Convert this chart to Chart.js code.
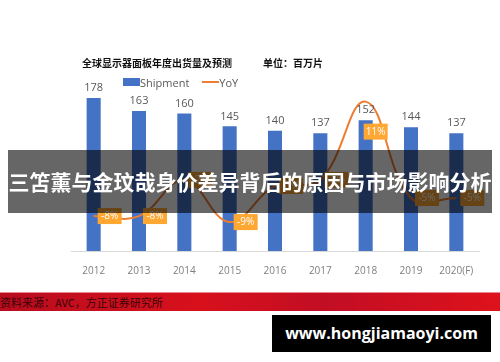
<!DOCTYPE html>
<html lang="zh">
<head>
<meta charset="UTF-8">
<title>全球显示器面板年度出货量及预测</title>
<script src="https://cdn.jsdelivr.net/npm/chart.js"></script>
<style>
    body { margin: 0; background: #fff; }
    .wrap { position: relative; width: 500px; height: 362px; overflow: hidden; font-family: "Open Sans", "Noto Sans CJK SC", sans-serif; }
    canvas { position: absolute; left: 0; top: 0; }
    .title { position: absolute; top: 55px; font: bold 10px "Noto Sans CJK SC", sans-serif; color: #111; white-space: nowrap; }
    .legend { position: absolute; top: 73px; left: 123px; font-size: 11px; color: #595959; white-space: nowrap; }
    .legend span { display: inline-block; vertical-align: middle; }
    .sw-bar { width: 17px; height: 8px; background: #4472C4; }
    .sw-line { width: 17px; height: 2px; background: #ED7D31; margin-left: 13px; }
    .band { position: absolute; left: 8px; top: 150px; width: 484px; height: 63px; background: rgba(0,0,0,0.6);
            color: #fff; font: bold 21px "Noto Sans CJK SC", sans-serif; line-height: 63px; text-align: center; white-space: nowrap; }
    .source { position: absolute; left: 0; top: 292px; width: 500px; height: 18px;
              background: linear-gradient(90deg, #b80d1f 0%, #d8101c 40%, #c20e24 65%, #de121c 100%);
              border-top: 1px solid #e98a90; font: 11px "Noto Sans CJK SC", sans-serif; line-height: 18px; color: #3a0508; white-space: nowrap; }
    .mark { position: absolute; left: 272px; top: 315px; width: 219px; height: 37px; background: #000; color: #fff;
            font: bold 16px "Open Sans", sans-serif; line-height: 37px; text-align: center; }
</style>
</head>
<body>
<div class="wrap">
    <canvas id="chart" width="500" height="362"></canvas>
    <div class="title" style="left:82px">全球显示器面板年度出货量及预测</div>
    <div class="title" style="left:263px">单位：百万片</div>
    <div class="legend">
        <span class="sw-bar"></span><span>Shipment</span><span class="sw-line"></span><span>YoY</span>
    </div>
    <div class="band">三笘薰与金玟哉身价差异背后的原因与市场影响分析</div>
    <div class="source">资料来源：AVC，方正证券研究所</div>
    <div class="mark">www.hongjiamaoyi.com</div>
</div>

<script>
    const years = ['2012', '2013', '2014', '2015', '2016', '2017', '2018', '2019', '2020(F)'];
    const shipment = [178, 163, 160, 145, 140, 137, 152, 144, 137];
    const yoy = [-8, -8, -2, -9, -3, -2, 11, -5, -5];

    // value labels: numbers over bars, orange boxes beside the YoY points
    const labelPlugin = {
        id: 'labels',
        afterDatasetsDraw(chart) {
            const ctx = chart.ctx;
            ctx.save();
            ctx.textAlign = 'center';
            ctx.textBaseline = 'middle';

            ctx.font = '11px "Open Sans"';
            ctx.fillStyle = '#595959';
            chart.getDatasetMeta(1).data.forEach((bar, i) => {
                ctx.fillText(shipment[i], bar.x, bar.y - 10);
            });

            const peak = Math.max(...yoy);
            ctx.font = '10px "Open Sans"';
            chart.getDatasetMeta(0).data.forEach((pt, i) => {
                let cx = pt.x + 16, cy = pt.y;
                if (yoy[i] === peak) { cx = pt.x + 10; cy = pt.y + 30; }
                ctx.fillStyle = '#FFA733';
                ctx.fillRect(cx - 12, cy - 8, 24, 16);
                ctx.fillStyle = '#fff';
                ctx.fillText(yoy[i] + '%', cx, cy + 0.5);
            });
            ctx.restore();
        }
    };

    new Chart(document.getElementById('chart'), {
        data: {
            labels: years,
            datasets: [{
                type: 'line',
                label: 'YoY',
                data: yoy,
                yAxisID: 'y1',
                borderColor: '#ED7D31',
                borderWidth: 2,
                tension: 0.4,
                pointRadius: 0,
                order: 0
            }, {
                type: 'bar',
                label: 'Shipment',
                data: shipment,
                backgroundColor: '#4472C4',
                barPercentage: 0.31,
                categoryPercentage: 1,
                order: 1
            }]
        },
        options: {
            responsive: false,
            animation: false,
            layout: { padding: { left: 71, right: 21, top: 98, bottom: 79 } },
            plugins: { legend: { display: false }, tooltip: { enabled: false } },
            scales: {
                x: {
                    grid: { display: false },
                    border: { color: '#d9d9d9' },
                    ticks: { color: '#7f7f7f', font: { family: 'Open Sans', size: 10 }, padding: 6, maxRotation: 0, autoSkip: false }
                },
                y: { display: false, min: 0, max: 178 },
                y1: { display: false, min: -13.8, max: 11.6 }
            }
        },
        plugins: [labelPlugin]
    });
</script>
</body>
</html>
